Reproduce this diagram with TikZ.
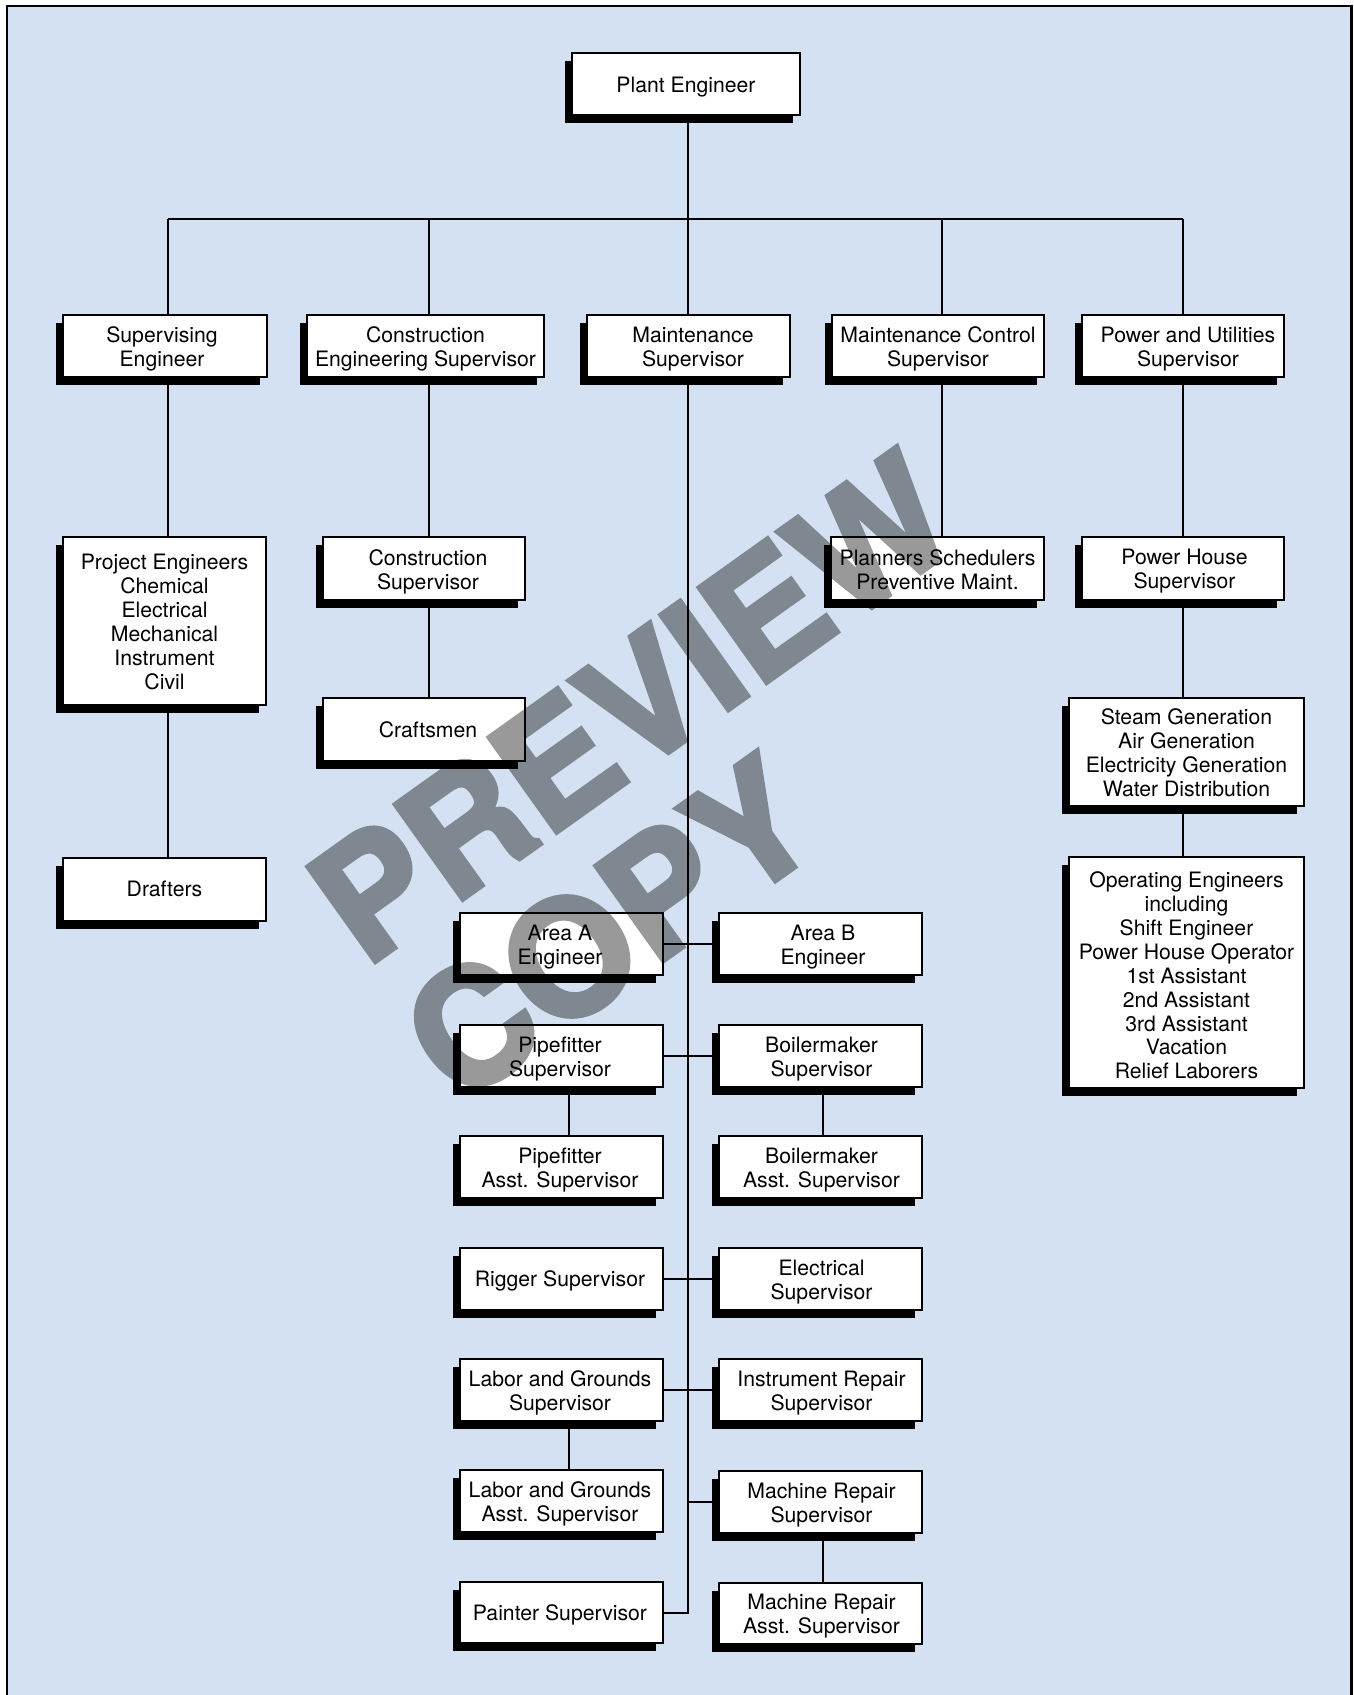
\documentclass[tikz,border=0pt]{standalone}
\usepackage{fontspec}
\setmainfont{TeX Gyre Heros}
\newfontfamily\wmfont[FakeBold=3]{TeX Gyre Heros}
\usetikzlibrary{shadows}
\definecolor{panel}{RGB}{212,225,242}

% box given by its corners: [text shift], name, x1, y1, x2, y2, text
\newcommand\orgbox[7][0,3]{%
  \node[org, minimum width={(#5-#3)*0.5pt}, minimum height={(#6-#4)*0.5pt}]
    (#2) at ({(#3+#5)/2},{(#4+#6)/2}) {};
  \node[orgtext] (#2-t) at ([shift={(#1)}]#2.center) {#7};}

\begin{document}
\begin{tikzpicture}[x=0.5pt,y=-0.5pt,
  org/.style={draw=black, line width=1pt, fill=white, inner sep=0pt,
    drop shadow={shadow xshift=-3.5pt, shadow yshift=-4pt, opacity=1, fill=black}},
  orgtext/.style={inner sep=0pt, align=center,
    font=\fontsize{10.6}{11.95}\selectfont},
  link/.style={draw=black, line width=1pt},
  wmark/.style={text=black!40, inner sep=0pt, rotate=35.5,
    font=\fontsize{80}{80}\wmfont\bfseries}]

\useasboundingbox (0,0) rectangle (1353,1695);
\fill[white] (0,0) rectangle (1353,1695);
\fill[panel] (7,6) rectangle (1351.5,1710);
\draw[line width=1.25pt] (7,1710) -- (7,6) -- (1351.5,6) -- (1351.5,1710);

% column positions of the connectors
\coordinate (bus) at (0,219);
\coordinate (k1) at (167.5,0);
\coordinate (k2) at (429,0);
\coordinate (k3) at (687.5,0);
\coordinate (k4) at (942,0);
\coordinate (k5) at (1183,0);
\coordinate (kL) at (569,0);
\coordinate (kR) at (823,0);

% top
\orgbox{pe}{572}{53}{800}{115}{Plant Engineer}

% second level
\orgbox[-3,3]{seng}{63}{315}{267}{377}{Supervising\\Engineer}
\orgbox{ceng}{307}{315}{544}{377}{Construction\\Engineering Supervisor}
\orgbox[4.5,3]{msup}{587}{315}{790}{377}{Maintenance\\Supervisor}
\orgbox{mctl}{832}{315}{1044}{377}{Maintenance Control\\Supervisor}
\orgbox[5,3]{pusup}{1082}{315}{1284}{377}{Power and Utilities\\Supervisor}

% third level
\orgbox[0,1]{proj}{63}{537}{266}{705}{Project Engineers\\Chemical\\Electrical\\Mechanical\\Instrument\\Civil}
\orgbox[4,3]{csup}{323}{537}{525}{600}{Construction\\Supervisor}
\orgbox[0,1]{plan}{831}{537}{1044}{600}{Planners Schedulers\\Preventive Maint.}
\orgbox[1.5,3]{phsup}{1082}{537}{1284}{600}{Power House\\Supervisor}

\orgbox[4,0]{craft}{323}{698}{525}{761}{Craftsmen}
\orgbox[0,1]{steam}{1069}{698}{1304}{806}{Steam Generation\\Air Generation\\Electricity Generation\\Water Distribution}
\orgbox[0,-1]{drft}{63}{858}{266}{921}{Drafters}
\orgbox{oper}{1069}{857}{1304}{1088}{Operating Engineers\\including\\Shift Engineer\\Power House Operator\\1st Assistant\\2nd Assistant\\3rd Assistant\\Vacation\\Relief Laborers}

% maintenance groups
\orgbox[-1.5,3]{areaA}{460}{913}{663}{975}{Area A\\Engineer}
\orgbox[2.5,3]{areaB}{719}{913}{922}{975}{Area B\\Engineer}
\orgbox[-1.5,3]{pipe}{460}{1025}{663}{1087}{Pipefitter\\Supervisor}
\orgbox[1,3]{boil}{719}{1025}{922}{1087}{Boilermaker\\Supervisor}
\orgbox[-1.5,3]{pipeA}{460}{1136}{663}{1198}{Pipefitter\\Asst. Supervisor}
\orgbox[1,3]{boilA}{719}{1136}{922}{1198}{Boilermaker\\Asst. Supervisor}
\orgbox[-1.5,2]{rig}{460}{1248}{663}{1310}{Rigger Supervisor}
\orgbox[1,3]{elec}{719}{1248}{922}{1310}{Electrical\\Supervisor}
\orgbox[-1.5,3]{lab}{460}{1359}{663}{1421}{Labor and Grounds\\Supervisor}
\orgbox[1,3]{inst}{719}{1359}{922}{1421}{Instrument Repair\\Supervisor}
\orgbox[-1.5,3]{labA}{460}{1470}{663}{1532}{Labor and Grounds\\Asst. Supervisor}
\orgbox[1,3]{mach}{719}{1471}{922}{1533}{Machine Repair\\Supervisor}
\orgbox[-1.5,2]{paint}{460}{1582}{663}{1643}{Painter Supervisor}
\orgbox[1,3]{machA}{719}{1583}{922}{1644}{Machine Repair\\Asst. Supervisor}

% connectors from the plant engineer
\draw[link] (pe.south -| k3) -- (bus -| k3);
\draw[link] (bus -| k1) -- (bus -| k5);
\draw[link] (bus -| k1) -- (seng.north -| k1);
\draw[link] (bus -| k2) -- (ceng.north -| k2);
\draw[link] (bus -| k3) -- (msup.north -| k3);
\draw[link] (bus -| k4) -- (mctl.north -| k4);
\draw[link] (bus -| k5) -- (pusup.north -| k5);

% branches
\draw[link] (seng.south -| k1) -- (proj.north -| k1);
\draw[link] (proj.south -| k1) -- (drft.north -| k1);
\draw[link] (ceng.south -| k2) -- (csup.north -| k2);
\draw[link] (csup.south -| k2) -- (craft.north -| k2);
\draw[link] (mctl.south -| k4) -- (plan.north -| k4);
\draw[link] (pusup.south -| k5) -- (phsup.north -| k5);
\draw[link] (phsup.south -| k5) -- (steam.north -| k5);
\draw[link] (steam.south -| k5) -- (oper.north -| k5);

% maintenance trunk
\draw[link] (msup.south -| k3) -- (paint.east -| k3) -- (paint.east);
\draw[link] (areaA.east) -- (areaB.west);
\draw[link] (pipe.east) -- (boil.west);
\draw[link] (rig.east) -- (elec.west);
\draw[link] (lab.east) -- (inst.west);
\draw[link] (mach.west -| k3) -- (mach.west);
\draw[link] (pipe.south -| kL) -- (pipeA.north -| kL);
\draw[link] (boil.south -| kR) -- (boilA.north -| kR);
\draw[link] (lab.south -| kL) -- (labA.north -| kL);
\draw[link] (mach.south -| kR) -- (machA.north -| kR);

% watermark, composited as one group so the emboldening stroke does not darken
\begin{scope}[blend mode=multiply, transparency group]
  \node[wmark] (wm1) at (632,707) {PREVIEW};
  \node[wmark] (wm2) at (609,928) {COPY};
\end{scope}
\end{tikzpicture}
\end{document}
